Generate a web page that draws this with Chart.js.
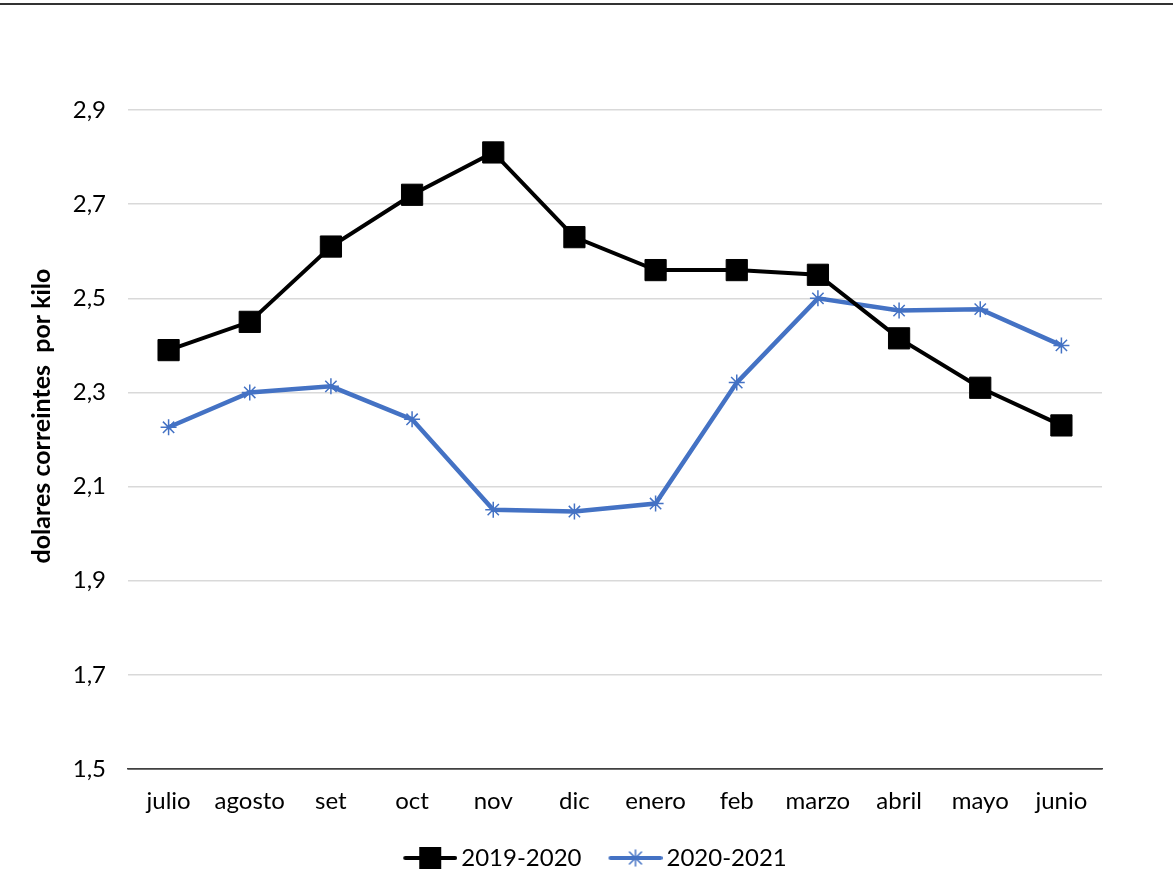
<!DOCTYPE html>
<html>
<head>
<meta charset="utf-8">
<script src="https://cdn.jsdelivr.net/npm/chart.js@4"></script>
<style>
    body { margin: 0; background: #fff; }
    #wrap { position: relative; width: 1173px; height: 894px; }
    #topLine { position: absolute; left: 0; top: 3px; width: 1173px; height: 2px; background: #333; }
</style>
</head>
<body>
<div id="wrap">
    <div id="topLine"></div>
    <canvas id="myChart" width="1173" height="894"></canvas>
</div>
<script>
const months = ['julio', 'agosto', 'set', 'oct', 'nov', 'dic', 'enero', 'feb', 'marzo', 'abril', 'mayo', 'junio'];
const season2019 = [2.39, 2.45, 2.61, 2.72, 2.81, 2.63, 2.56, 2.56, 2.55, 2.415, 2.31, 2.23];
const season2020 = [2.226, 2.30, 2.313, 2.243, 2.051, 2.047, 2.064, 2.321, 2.50, 2.474, 2.477, 2.40];
const yLabelValues = [1.5, 1.7, 1.9, 2.1, 2.3, 2.5, 2.7, 2.9];

const FONT = 'Lato, "Open Sans", sans-serif';
const BLUE = '#4472C4';

// legend swatch: a short line with the series marker on it
// (8px blank on the left so the swatch sits close to its text)
function legendSwatch(color, marker) {
    const c = document.createElement('canvas');
    c.width = 62;
    c.height = 24;
    const g = c.getContext('2d');
    g.strokeStyle = color;
    g.lineWidth = 4;
    g.lineCap = 'round';
    g.beginPath();
    g.moveTo(10, 12);
    g.lineTo(60, 12);
    g.stroke();
    if (marker === 'rect') {
        g.fillStyle = color;
        g.fillRect(24, 1, 22, 22);
    } else {
        g.lineWidth = 1.5;
        g.beginPath();
        g.moveTo(35, 4); g.lineTo(35, 20);
        g.moveTo(29, 6); g.lineTo(41, 18);
        g.moveTo(41, 6); g.lineTo(29, 18);
        g.stroke();
    }
    return c;
}

const swatches = [legendSwatch('#000', 'rect'), legendSwatch(BLUE, 'star')];

// nudge the legend to the right, like the original
const legendShift = {
    id: 'legendShift',
    afterLayout(chart) {
        chart.legend.left += 44;
        chart.legend.right += 44;
    }
};

const ctx = document.getElementById('myChart').getContext('2d');
new Chart(ctx, {
    type: 'line',
    data: {
        labels: months,
        datasets: [
            {
                label: '2019-2020',
                data: season2019,
                borderColor: '#000',
                backgroundColor: '#000',
                borderWidth: 4,
                pointStyle: 'rect',
                pointRadius: 15,
                pointBorderWidth: 1,
                tension: 0
            },
            {
                label: '2020-2021',
                data: season2020,
                borderColor: BLUE,
                backgroundColor: BLUE,
                borderWidth: 4.5,
                pointStyle: 'star',
                pointRadius: 8,
                pointBorderWidth: 1.5,
                tension: 0
            }
        ]
    },
    plugins: [legendShift],
    options: {
        responsive: false,
        animation: false,
        layout: { padding: { top: 63, right: 71, bottom: 14, left: 0 } },
        plugins: {
            tooltip: { enabled: false },
            legend: {
                position: 'bottom',
                maxHeight: 64,
                labels: {
                    color: '#000',
                    font: { family: FONT, size: 24 },
                    usePointStyle: true,
                    pointStyleWidth: 46,
                    boxHeight: 24,
                    padding: 27,
                    generateLabels: chart => chart.data.datasets.map((ds, i) => ({
                        text: ds.label,
                        pointStyle: swatches[i],
                        fillStyle: ds.borderColor,
                        strokeStyle: ds.borderColor,
                        lineWidth: 0,
                        datasetIndex: i
                    }))
                }
            }
        },
        scales: {
            x: {
                offset: true,
                grid: { display: false },
                border: { display: true, color: '#404040', width: 1.5 },
                ticks: { color: '#000', font: { family: FONT, size: 24 }, padding: 10, maxRotation: 0 },
                afterFit: s => { s.height = 50; }
            },
            y: {
                min: 1.5,
                max: 3.0,
                ticks: {
                    stepSize: 0.2,
                    color: '#000',
                    padding: 22,
                    font: { family: FONT, size: 24 },
                    callback: v => v.toFixed(1).replace('.', ',')
                },
                afterBuildTicks: s => {
                    s.ticks = yLabelValues.map(v => ({ value: v }));
                },
                grid: {
                    drawTicks: false,
                    lineWidth: 1.5,
                    color: c => (c.tick && c.tick.value === 1.5) ? '#404040' : '#d9d9d9'
                },
                border: { display: false },
                title: {
                    display: true,
                    text: 'dolares correintes  por kilo',
                    color: '#000',
                    font: { family: FONT, size: 25, weight: 'bold' },
                    padding: { top: 27, bottom: 0 }
                },
                afterFit: s => { s.width = 128; }
            }
        }
    }
});
</script>
</body>
</html>
